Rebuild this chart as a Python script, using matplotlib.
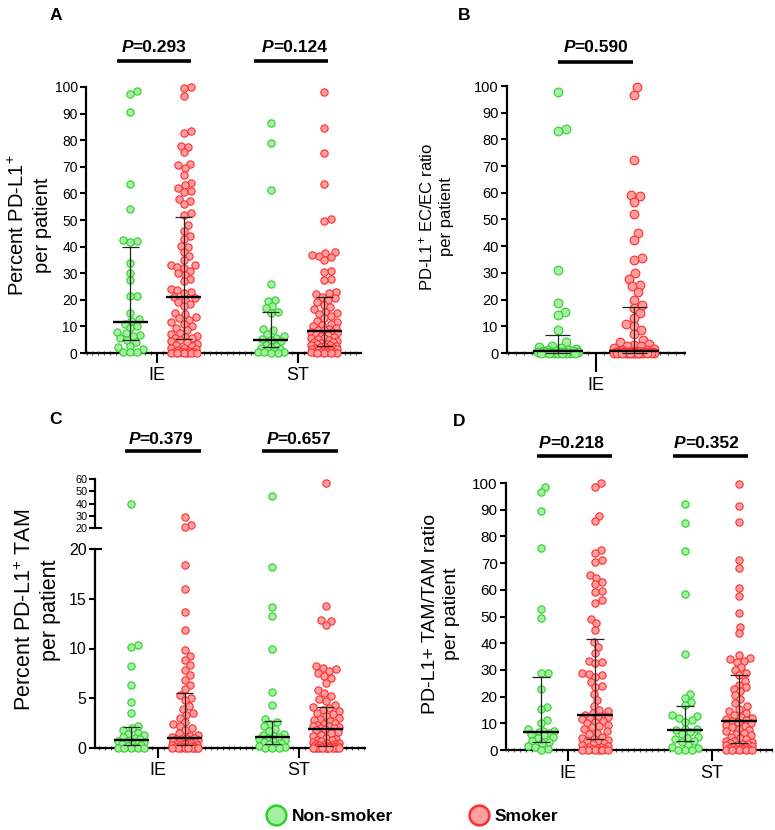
import numpy as np
import matplotlib
matplotlib.use("Agg")
import matplotlib.pyplot as plt
from matplotlib.transforms import blended_transform_factory
from matplotlib.lines import Line2D
from matplotlib.ticker import MultipleLocator

plt.rcParams['font.family'] = ['Liberation Sans', 'DejaVu Sans']
plt.rcParams['mathtext.fontset'] = 'custom'
plt.rcParams['mathtext.rm'] = 'Liberation Sans'
plt.rcParams['mathtext.it'] = 'Liberation Sans:italic'
plt.rcParams['mathtext.bf'] = 'Liberation Sans:bold'

# ---------------- data ----------------
groups = ['IE', 'ST']
series = ['Non-smoker', 'Smoker']

# Panel A: Percent PD-L1+ per patient
a_ie_nonsmoker = [98.5, 97.5, 90.5, 63.5, 54.2, 42.4, 42.2, 41.8, 34.0, 30.2, 27.6, 21.5, 21.3,
                  15.0, 12.6, 12.2, 11.0, 10.2, 9.5, 8.0, 7.5, 6.6, 6.4, 5.6, 5.0, 4.1, 2.8, 2.2,
                  1.5, 0.4, 0.2, 0.2]
a_ie_smoker = [100, 99.5, 96.5, 83.3, 82.7, 78.0, 77.5, 75.5, 71.0, 70.5, 69.5, 67.0, 64.0, 63.0,
               62.0, 61.0, 60.5, 58.0, 57.0, 56.0, 52.5, 52.0,
               48.0, 46.0, 44.0, 43.0, 40.3, 40.0, 38.0, 36.5, 35.0, 33.2, 33.0, 32.5, 32.0, 31.0,
               30.0, 29.5, 28.0, 27.0, 24.0, 23.5, 23.0, 22.5,
               21.0, 20.5, 20.0, 19.0, 18.5, 17.5, 15.0, 14.5, 13.5, 13.0, 12.5, 11.5, 11.0, 10.0,
               9.5, 8.5, 7.5, 7.0, 6.5, 6.0, 5.8, 5.6,
               5.0, 4.5, 4.0, 3.5, 3.0, 2.5, 2.0, 1.8, 1.5, 1.0, 0.8, 0.5, 0.5, 0.3, 0.3, 0.2,
               0.1, 0.1, 0.0, 0.0, 0.0, 0.0]
a_st_nonsmoker = [86.6, 78.8, 61.2, 25.8, 20.0, 19.5, 17.5, 16.8, 15.5, 15.0, 9.0, 8.5, 7.0, 6.5,
                  5.8, 5.2, 4.8, 4.5, 3.0, 2.5, 2.2, 1.8, 1.5, 1.0, 0.6, 0.5, 0.3, 0.2, 0.1, 0.0]
a_st_smoker = [98.0, 84.5, 75.0, 63.7, 50.3, 49.5, 38.0, 37.5, 37.0, 36.5, 36.0, 35.0, 31.0, 30.5,
               28.0, 27.5, 23.0, 22.5, 22.0, 21.2,
               20.5, 20.0, 19.0, 18.0, 17.2, 16.5, 15.5, 15.0, 14.5, 13.8, 13.0, 12.0, 11.5, 11.0,
               10.5, 10.0, 9.5, 9.0, 8.8, 8.5,
               8.0, 7.8, 7.5, 7.0, 6.8, 6.5, 6.0, 5.8, 5.5, 5.2, 5.0, 4.5, 4.2, 4.0, 3.8, 3.5,
               3.3, 3.0, 2.9, 2.8,
               2.5, 2.3, 2.0, 2.0, 1.8, 1.5, 1.5, 1.2, 1.0, 1.0, 0.8, 0.5, 0.5, 0.3, 0.2, 0.2,
               0.1, 0.0, 0.0, 0.0]
# (Q1, median, Q3) per group
a_stats_nonsmoker = [(4.7, 11.6, 39.8), (2.1, 5.0, 15.4)]
a_stats_smoker = [(5.4, 21.2, 51.3), (2.7, 8.4, 20.9)]

# Panel B: PD-L1+ EC/EC ratio per patient (IE only)
b_ie_nonsmoker = [97.8, 83.8, 83.3, 31.2, 18.8, 15.4, 14.1, 8.7, 4.3, 2.6, 2.2, 1.8, 1.5, 1.2,
                  1.0, 0.9, 0.7, 0.6, 0.5, 0.4, 0.3, 0.3, 0.2, 0.2, 0.1, 0.1, 0.0, 0.0, 0.0, 0.0,
                  0.0, 0.0]
b_ie_smoker = [99.5, 96.6, 72.3, 59.2, 58.8, 56.5, 52.0, 45.0, 42.3, 35.5, 34.8, 30.0, 27.8,
               25.6, 25.0, 22.7, 20.0, 18.0,
               17.0, 15.0, 13.0, 11.0, 10.0, 8.5, 7.0, 5.0, 4.0, 3.5, 3.0, 2.8, 2.5, 2.0, 1.5,
               1.2, 1.0, 0.8,
               0.6, 0.55, 0.5, 0.5, 0.45, 0.4, 0.4, 0.35, 0.3, 0.3, 0.25, 0.2, 0.2, 0.15, 0.1,
               0.1, 0.1, 0.05, 0.05, 0.0, 0.0, 0.0, 0.0, 0.0, 0.0, 0.0, 0.0, 0.0]
b_stats_nonsmoker = [(0.0, 0.7, 6.6)]
b_stats_smoker = [(0.0, 0.6, 17.2)]

# Panel C: Percent PD-L1+ TAM per patient
c_ie_nonsmoker = [40.0, 10.4, 10.2, 8.2, 6.3, 4.6, 3.5, 2.2, 2.0, 1.8, 1.5, 1.4, 1.3, 1.1, 1.0,
                  0.9, 0.8, 0.7, 0.6, 0.6, 0.5, 0.4, 0.4, 0.3, 0.2, 0.1, 0.05, 0.0, 0.0, 0.0, 0.0]
c_ie_smoker = [28.7, 22.4, 20.6, 18.4, 16.0, 13.7, 11.9, 9.8, 9.2, 8.8, 8.3, 7.8, 7.3, 6.8, 6.3,
               5.9,
               5.3, 5.0, 4.8, 4.2, 3.9, 3.5, 3.3, 3.0, 2.6, 2.4, 2.2, 2.0, 1.8, 1.5, 1.3, 1.2,
               1.1, 1.0, 1.0, 0.9, 0.9, 0.8, 0.8, 0.7, 0.7, 0.6, 0.6, 0.5, 0.5, 0.45, 0.4, 0.4,
               0.3, 0.3, 0.25, 0.2, 0.2, 0.15, 0.1, 0.1, 0.05, 0.05, 0.0, 0.0, 0.0, 0.0, 0.0, 0.0]
c_st_nonsmoker = [46.0, 18.2, 14.2, 13.3, 9.9, 5.6, 4.3, 2.9, 2.6, 2.4, 2.2, 1.9, 1.7, 1.4, 1.3,
                  1.2, 1.1, 1.0, 0.9, 0.8, 0.7, 0.6, 0.5, 0.4, 0.3, 0.2, 0.1, 0.05, 0.0, 0.0]
c_st_smoker = [56.5, 14.3, 12.9, 12.8, 12.4, 8.2, 8.0, 7.9, 7.7, 7.5, 7.2, 7.0, 6.5, 5.8, 5.5,
               5.2, 4.9, 4.7, 4.3,
               4.1, 4.0, 3.8, 3.7, 3.5, 3.4, 3.2, 3.0, 2.9, 2.8, 2.7, 2.5, 2.4, 2.3, 2.2, 2.2,
               2.1, 2.0, 2.0,
               1.9, 1.8, 1.6, 1.5, 1.3, 1.2, 1.0, 0.9, 0.8, 0.8, 0.7, 0.6, 0.5, 0.5, 0.4, 0.4,
               0.3, 0.3, 0.3,
               0.2, 0.2, 0.2, 0.2, 0.15, 0.1, 0.1, 0.1, 0.1, 0.05, 0.05, 0.05, 0.0, 0.0, 0.0,
               0.0, 0.0, 0.0, 0.0]
c_stats_nonsmoker = [(0.3, 0.8, 2.1), (0.36, 1.1, 2.7)]
c_stats_smoker = [(0.35, 1.05, 5.5), (0.2, 1.95, 4.1)]

# Panel D: PD-L1+ TAM/TAM ratio per patient
d_ie_nonsmoker = [98.6, 96.5, 89.5, 75.5, 52.8, 49.5, 29.0, 28.7, 22.7, 16.0, 15.2, 11.2, 10.0,
                  8.0, 7.2, 7.0, 6.8, 6.5, 6.0, 5.5, 5.0, 4.5, 3.5, 3.1, 2.5, 1.5, 1.2, 0.5, 0.0]
d_ie_smoker = [100, 98.6, 87.7, 85.6, 74.9, 73.7, 71.0, 70.5, 65.5, 64.5, 63.0, 62.0, 59.5, 59.0,
               56.0, 55.0, 49.0, 47.5, 45.0,
               40.5, 38.5, 36.2, 33.5, 33.0, 32.4, 29.0, 28.5, 28.0, 27.4, 25.5, 24.0, 23.5,
               21.0, 18.7, 16.5, 15.0, 14.5, 14.0,
               13.0, 12.7, 12.5, 12.2, 12.0, 11.5, 11.0, 10.5, 10.0, 9.5, 9.0, 8.5, 7.8, 7.0,
               6.5, 6.0, 5.0, 4.5, 4.2,
               3.8, 3.5, 3.0, 2.5, 2.2, 2.0, 1.5, 1.2, 1.0, 0.8, 0.5, 0.3, 0.2, 0.1, 0.0, 0.0,
               0.0, 0.0, 0.0]
d_st_nonsmoker = [92.0, 84.9, 74.5, 58.3, 35.8, 21.0, 19.5, 18.1, 16.8, 13.0, 12.7, 12.0, 11.2,
                  10.6, 7.8, 8.0, 7.5, 6.8, 6.0, 5.0, 4.5, 4.0, 3.5, 3.0, 2.0, 1.2, 0.8, 0.0,
                  0.0, 0.0]
d_st_smoker = [99.6, 91.5, 85.3, 71.2, 68.3, 60.8, 57.8, 51.2, 46.2, 43.7, 35.5, 34.5, 34.0, 33.5,
               33.0, 31.0, 30.0, 29.0,
               28.0, 26.0, 24.5, 23.5, 23.0, 22.0, 20.5, 19.0, 17.5, 16.5, 15.5, 14.5, 14.0,
               13.0, 12.5, 12.0, 11.5, 11.2,
               10.8, 10.5, 10.0, 9.5, 9.0, 8.5, 8.0, 7.5, 7.0, 6.5, 6.0, 5.5, 5.0, 4.5, 4.0,
               3.5, 3.2, 3.0,
               2.6, 2.4, 2.2, 2.0, 1.8, 1.5, 1.2, 1.0, 0.8, 0.6, 0.5, 0.3, 0.2, 0.1, 0.0, 0.0,
               0.0, 0.0]
d_stats_nonsmoker = [(3.1, 6.6, 27.2), (3.4, 7.6, 16.4)]
d_stats_smoker = [(4.0, 13.0, 41.6), (2.8, 10.9, 28.2)]

p_labels_a = ['0.293', '0.124']
p_labels_b = ['0.590']
p_labels_c = ['0.379', '0.657']
p_labels_d = ['0.218', '0.352']

# ---------------- style ----------------
GREEN_FACE, GREEN_EDGE = '#a4f0a0', '#2fd02f'
RED_FACE, RED_EDGE = '#ff9f9f', '#ff2d2d'

W, H = 775, 830
fig = plt.figure(figsize=(W / 100, H / 100), dpi=100)
renderer = fig.canvas.get_renderer()


def add_axes_px(left, top, right, bottom):
    return fig.add_axes([left / W, 1 - bottom / H, (right - left) / W, (bottom - top) / H])


def style_axes(ax, xlim, ylim, yticks, xticks, xlabels, xtick_len, minor_step, ysize,
               show_x=True):
    ax.patch.set_visible(False)
    ax.spines['top'].set_visible(False)
    ax.spines['right'].set_visible(False)
    ax.spines['left'].set_linewidth(1.6)
    ax.spines['bottom'].set_linewidth(1.6)
    ax.set_xlim(*xlim)
    ax.set_ylim(*ylim)
    ax.set_yticks(yticks)
    ax.tick_params(axis='y', length=4.5, width=1.5, pad=1.5, labelsize=ysize, colors='black')
    if show_x:
        ax.set_xticks(xticks)
        ax.set_xticklabels(xlabels, fontsize=13)
        ax.tick_params(axis='x', length=xtick_len, width=1.5, pad=3)
        ax.xaxis.set_minor_locator(MultipleLocator(minor_step))
        ax.tick_params(axis='x', which='minor', length=2.6, width=0.8, color='#555555',
                       direction='inout')
    else:
        ax.spines['bottom'].set_visible(False)
        ax.set_xticks([])


def swarm_offsets(ypx, diam, maxw, step=0.5):
    ypx = np.asarray(ypx, float)
    n = len(ypx)
    xs = np.zeros(n)
    placed = np.zeros(n, bool)
    c = np.arange(step, maxw + 1e-9, step)
    cands = np.concatenate([[0.0], np.column_stack([c, -c]).ravel()])
    order = np.argsort(ypx, kind='stable')
    for i in order:
        idx = np.where(placed & (np.abs(ypx - ypx[i]) < diam))[0]
        if len(idx):
            dx = cands[:, None] - xs[idx][None, :]
            dy = (ypx[idx] - ypx[i])[None, :]
            d = np.sqrt(dx ** 2 + dy ** 2).min(axis=1)
            ok = np.where(d >= diam)[0]
            xs[i] = cands[ok[0]] if len(ok) else cands[np.argmax(d)]
        placed[i] = True
    return xs


def px_scale(ax):
    o = ax.transData.transform((0, 0))
    px = ax.transData.transform((1, 1))
    return px[0] - o[0], px[1] - o[1]


def draw_points(ax, x0, vals, face, edge, diam, maxw):
    vals = np.asarray(vals, float)
    if len(vals) == 0:
        return
    sx, sy = px_scale(ax)
    xs = swarm_offsets(vals * sy, diam * 0.92, maxw)
    s = (diam * 0.72) ** 2
    ax.scatter(x0 + xs / sx, vals, s=s, facecolor=face, edgecolor=edge, linewidths=0.8,
               clip_on=False, zorder=3)


def draw_stats(ax, x0, stats, med_half, cap_half):
    q1, med, q3 = stats
    sx, sy = px_scale(ax)
    mh, ch = med_half / sx, cap_half / sx
    ax.plot([x0, x0], [q1, q3], color='#222222', lw=0.9, zorder=4, clip_on=False)
    for q in (q1, q3):
        ax.plot([x0 - ch, x0 + ch], [q, q], color='#222222', lw=0.9, zorder=4, clip_on=False,
                solid_capstyle='butt')
    ax.plot([x0 - mh, x0 + mh], [med, med], color='black', lw=1.7, zorder=5, clip_on=False,
            solid_capstyle='butt')


def p_annot(ax, x_left, x_right, x_text, y_bar_px, y_text_px, label):
    tr = blended_transform_factory(ax.transData, fig.transFigure)
    ax.plot([x_left, x_right], [1 - y_bar_px / H] * 2, color='black', lw=2.6,
            transform=tr, clip_on=False, solid_capstyle='butt')
    xc = ax.transData.transform((x_text, 0))[0]
    t1 = fig.text(0, 1 - y_text_px / H, 'P', fontsize=12.5, fontweight='bold', fontstyle='italic',
                  ha='left', va='center')
    t2 = fig.text(0, 1 - y_text_px / H, '=' + label, fontsize=12.5, fontweight='bold',
                  ha='left', va='center')
    w1 = t1.get_window_extent(renderer).width
    w2 = t2.get_window_extent(renderer).width
    left = xc - (w1 + w2) / 2
    t1.set_x(left / W)
    t2.set_x((left + w1 - 0.5) / W)


def panel_letter(x_px, y_px, letter):
    fig.text(x_px / W, 1 - y_px / H, letter, fontsize=12.5, fontweight='bold', ha='left',
             va='center')


def ylabel(x_px, y_px, text, size, spacing):
    fig.text(x_px / W, 1 - y_px / H, text, fontsize=size, rotation=90, ha='center', va='center',
             linespacing=spacing, multialignment='center')


# ---------------- Panel A ----------------
axA = add_axes_px(86, 87, 361, 353)
style_axes(axA, (-0.504, 1.45), (0, 100), range(0, 101, 10), [0, 1], groups, 7, 1 / 24, 10)
off = 0.19
for gi, (ns, sm) in enumerate([(a_ie_nonsmoker, a_ie_smoker), (a_st_nonsmoker, a_st_smoker)]):
    draw_points(axA, gi - off, ns, GREEN_FACE, GREEN_EDGE, 7.3, 13)
    draw_points(axA, gi + off, sm, RED_FACE, RED_EDGE, 7.3, 13)
    draw_stats(axA, gi - off, a_stats_nonsmoker[gi], 17.5, 8.5)
    draw_stats(axA, gi + off, a_stats_smoker[gi], 17.5, 8.5)
p_annot(axA, -0.284, 0.241, -0.02, 61, 48, p_labels_a[0])
p_annot(axA, 1 - 0.307, 1 + 0.218, 1 - 0.02, 61, 48, p_labels_a[1])
panel_letter(50, 16, 'A')
ylabel(30, 225, 'Percent PD-L1$^{+}$\nper patient', 14.5, 1.3)

# ---------------- Panel B ----------------
axB = add_axes_px(507, 86, 685, 353)
style_axes(axB, (-1, 1), (0, 100), range(0, 101, 10), [0], groups[:1], 14, 0.09, 10.5)
offb = 0.427
draw_points(axB, -offb, b_ie_nonsmoker, GREEN_FACE, GREEN_EDGE, 8.7, 20)
draw_points(axB, offb, b_ie_smoker, RED_FACE, RED_EDGE, 8.7, 20)
draw_stats(axB, -offb, b_stats_nonsmoker[0], 25, 12.5)
draw_stats(axB, offb, b_stats_smoker[0], 25, 12.5)
p_annot(axB, -0.427, 0.416, 0.0, 62, 47, p_labels_b[0])
panel_letter(458, 16, 'B')
ylabel(436, 217, 'PD-L1$^{+}$ EC/EC ratio\nper patient', 12, 1.3)

# ---------------- Panel C (broken axis) ----------------
axC = add_axes_px(95, 549, 365, 748)
axCu = add_axes_px(95, 479, 365, 528)
style_axes(axC, (-0.447, 1.468), (0, 20), [0, 5, 10, 15, 20], [0, 1], groups, 7, 1 / 24, 11.5)
style_axes(axCu, (-0.447, 1.468), (20, 60), [20, 30, 40, 50, 60], [], [], 0, 1, 7.8,
           show_x=False)
axCu.tick_params(axis='y', pad=1.0, length=4.5)
for gi, (ns, sm) in enumerate([(c_ie_nonsmoker, c_ie_smoker), (c_st_nonsmoker, c_st_smoker)]):
    ns = np.asarray(ns); sm = np.asarray(sm)
    draw_points(axC, gi - off, ns[ns < 20], GREEN_FACE, GREEN_EDGE, 7.3, 13)
    draw_points(axC, gi + off, sm[sm < 20], RED_FACE, RED_EDGE, 7.3, 13)
    draw_points(axCu, gi - off, ns[ns >= 20], GREEN_FACE, GREEN_EDGE, 7.3, 13)
    draw_points(axCu, gi + off, sm[sm >= 20], RED_FACE, RED_EDGE, 7.3, 13)
    draw_stats(axC, gi - off, c_stats_nonsmoker[gi], 17.5, 8.5)
    draw_stats(axC, gi + off, c_stats_smoker[gi], 17.5, 8.5)
# break marks
for y_px in (528, 549):
    fig.add_artist(Line2D([91 / W, 101 / W], [1 - y_px / H] * 2, color='black', lw=1.5))
p_annot(axC, -0.234, 0.305, 0.02, 451, 439, p_labels_c[0])
p_annot(axC, 1 - 0.262, 1 + 0.277, 1.0, 451, 439, p_labels_c[1])
panel_letter(49, 420, 'C')
ylabel(38, 610, 'Percent PD-L1$^{+}$ TAM\nper patient', 15.5, 1.25)

# ---------------- Panel D ----------------
axD = add_axes_px(506, 483, 772, 750)
style_axes(axD, (-0.43, 1.417), (0, 100), range(0, 101, 10), [0, 1], groups, 8, 1 / 24, 11)
for gi, (ns, sm) in enumerate([(d_ie_nonsmoker, d_ie_smoker), (d_st_nonsmoker, d_st_smoker)]):
    draw_points(axD, gi - off, ns, GREEN_FACE, GREEN_EDGE, 7.3, 13)
    draw_points(axD, gi + off, sm, RED_FACE, RED_EDGE, 7.3, 13)
    draw_stats(axD, gi - off, d_stats_nonsmoker[gi], 18, 9)
    draw_stats(axD, gi + off, d_stats_smoker[gi], 18, 9)
p_annot(axD, -0.215, 0.306, 0.024, 456, 443, p_labels_d[0])
p_annot(axD, 1 - 0.271, 1 + 0.25, 1 - 0.035, 456, 443, p_labels_d[1])
panel_letter(453, 421, 'D')
ylabel(441, 614, 'PD-L1+ TAM/TAM ratio\nper patient', 14, 1.3)

# ---------------- Legend ----------------
for (x_m, x_t, face, edge, name) in [(276, 292, GREEN_FACE, GREEN_EDGE, series[0]),
                                      (479, 495, RED_FACE, RED_EDGE, series[1])]:
    fig.add_artist(Line2D([x_m / W], [1 - 815 / H], marker='o', markersize=14.2,
                          markerfacecolor=face, markeredgecolor=edge, markeredgewidth=1.8,
                          linestyle='none'))
    fig.text(x_t / W, 1 - 816 / H, name, fontsize=12.5, fontweight='bold', ha='left',
             va='center')

fig.savefig('out.png', dpi=100)
